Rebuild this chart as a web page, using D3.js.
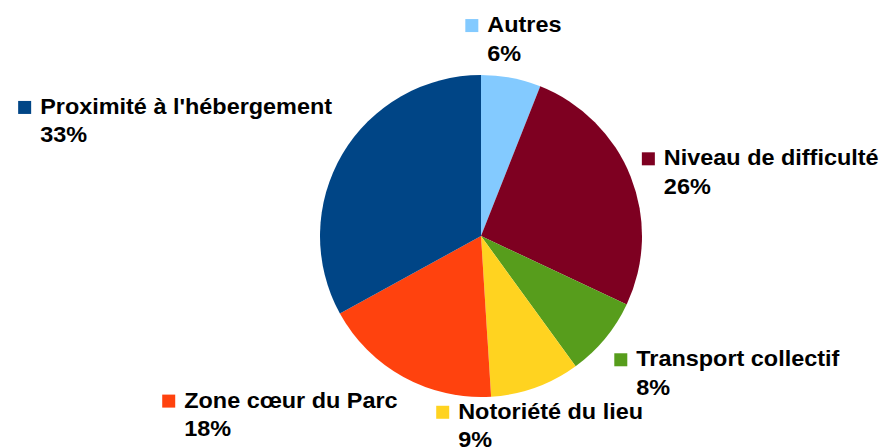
<!DOCTYPE html>
<html>
<head>
  <meta charset="utf-8">
  <title>pie</title>
  <style>
    body{ margin:0; background:#fff; }
    .lbl{
      font-family: "Liberation Sans", Arial, sans-serif;
      font-size: 22px;
      font-weight: bold;
      fill: #000;
      font-variant-ligatures: common-ligatures;
    }
  </style>
  <script src="https://d3js.org/d3.v7.min.js"></script>
</head>
<body>
  <script>
    var categories = ["Autres","Niveau de difficulté","Transport collectif","Notoriété du lieu","Zone cœur du Parc","Proximité à l'hébergement"];
    var values = [6,26,8,9,18,33];
    var colors = ["#83caff","#7e0021","#579d1c","#ffd320","#ff420e","#004586"];

    var width = 880, height = 448;
    var cx = 481, cy = 236, radius = 161;
    var sx = 1.065; // texte un peu plus large que la police

    var svg = d3.select('body').append('svg')
      .attr('width',width)
      .attr('height',height);

    var data = categories.map(function(c,i){ return {name:c, value:values[i], color:colors[i]}; });

    var pie = d3.pie().sort(null).value(d=>d.value);
    var arcs = pie(data);
    var totals = d3.sum(values);

    var arc = d3.arc().innerRadius(0).outerRadius(radius);

    var g = svg.append('g').attr('transform','translate('+cx+','+cy+')');

    g.selectAll('path')
      .data(arcs)
      .enter()
      .append('path')
      .attr('d',arc)
      .attr('fill',d=>d.data.color);

    // étiquettes
    var R = radius + 12;
    var sq = 13, gap = 9, line1 = 20, line2 = 48.5, blockH = 54;

    arcs.forEach(function(d){
      var mid = (d.startAngle + d.endAngle)/2;
      var s = Math.sin(mid), c = Math.cos(mid);
      var px = cx + R*s, py = cy - R*c;

      var lg = svg.append('g');
      lg.append('rect')
        .attr('x',0).attr('y',line1-sq)
        .attr('width',sq).attr('height',sq)
        .attr('fill',d.data.color);
      var t1 = lg.append('text').attr('class','lbl')
        .attr('transform','translate('+(sq+gap)+','+line1+') scale('+sx+',1)')
        .text(d.data.name);
      var t2 = lg.append('text').attr('class','lbl')
        .attr('transform','translate('+(sq+gap)+','+line2+') scale('+sx+',1)')
        .text(Math.round(d.data.value/totals*100)+'%');
      var tw = Math.max(t1.node().getComputedTextLength(), t2.node().getComputedTextLength())*sx;
      var bw = sq + gap + tw;

      var x0, y0;
      if (s > 0.42) x0 = px;
      else if (s < -0.42) x0 = px - bw;
      else x0 = px - bw/2;
      if (c > 0.42) y0 = py - blockH;
      else if (c < -0.42) y0 = py;
      else y0 = py - blockH/2;

      lg.attr('transform','translate('+x0+','+y0+')');
    });
  </script>
</body>
</html>
